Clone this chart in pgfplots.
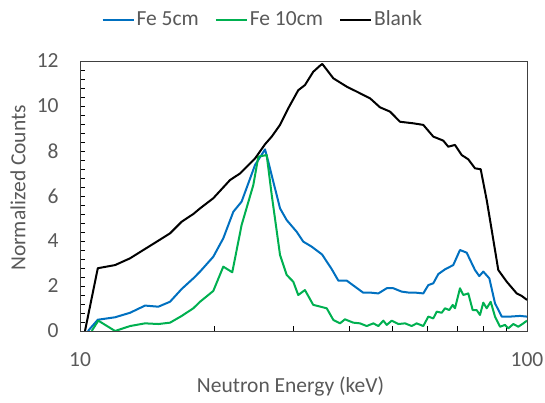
\documentclass[border=0pt]{standalone}
\usepackage{pgfplots}
\pgfplotsset{compat=1.18}
\usepackage{pgfplotstable}
\usepackage{fontspec}
\setmainfont{Carlito}
\definecolor{fefive}{HTML}{0070C0}
\definecolor{feten}{HTML}{00B050}
\definecolor{txt}{HTML}{595959}

\pgfplotstableread{
E c
10.42 0
10.96 0.50
11.98 0.61
12.94 0.81
13.98 1.13
14.97 1.08
15.90 1.30
16.89 1.87
17.93 2.34
18.56 2.64
19.87 3.30
20.92 4.12
22.03 5.30
22.99 5.75
24.64 7.38
25.94 8.07
26.38 7.52
28.02 5.45
29.00 4.93
30.53 4.41
31.59 3.97
32.98 3.75
34.80 3.40
36.57 2.75
37.84 2.24
39.51 2.24
41.23 1.97
43.03 1.70
44.94 1.70
46.50 1.67
48.55 1.90
50.23 1.90
52.44 1.75
54.73 1.70
56.65 1.70
58.61 1.67
60.15 2.04
61.71 2.12
63.33 2.53
65.55 2.74
68.40 2.93
70.81 3.60
73.30 3.48
76.50 2.71
78.22 2.44
79.84 2.64
82.36 2.34
84.81 1.23
87.79 0.64
91.62 0.64
96.45 0.67
100 0.64
}\fefive

\pgfplotstableread{
E c
10.62 0
10.99 0.46
11.98 0
12.94 0.22
13.98 0.34
14.97 0.31
15.90 0.37
16.89 0.67
17.93 1.01
18.56 1.30
19.87 1.78
20.92 2.86
21.91 2.61
22.99 4.71
24.42 6.49
25.06 7.75
26.16 7.82
26.85 6.04
28.02 3.38
29.00 2.49
30.00 2.19
30.78 1.60
31.86 1.82
33.25 1.16
35.64 1.01
36.88 0.49
38.17 0.34
39.15 0.52
40.87 0.37
42.31 0.34
43.80 0.22
45.31 0.34
46.50 0.22
47.70 0.46
48.55 0.27
49.82 0.46
51.55 0.31
53.36 0.34
55.21 0.22
56.65 0.34
58.61 0.22
60.15 0.64
61.71 0.56
62.81 0.86
64.45 0.81
65.55 1.01
67.01 0.93
68.20 1.16
69.00 1.01
70.81 1.90
72.03 1.60
73.91 1.67
75.59 0.93
77.17 0.93
78.50 0.71
79.84 1.26
81.25 1.01
82.94 1.30
84.81 0.64
87.02 0.19
89.29 0.27
90.82 0.12
93.20 0.31
95.61 0.19
98.11 0.34
100 0.46
}\feten

\pgfplotstableread{
E c
10.26 0
10.96 2.79
11.98 2.93
12.94 3.23
13.86 3.60
14.85 3.97
15.90 4.34
16.89 4.86
17.93 5.20
18.56 5.45
19.87 5.90
21.66 6.71
22.80 7.00
24.64 7.67
25.94 8.30
26.85 8.64
28.02 9.16
29.24 9.90
30.78 10.70
31.86 10.93
33.25 11.52
34.42 11.79
34.84 11.87
36.88 11.23
39.51 10.86
41.59 10.64
44.56 10.34
46.90 9.94
49.38 9.75
51.99 9.30
55.67 9.23
58.61 9.16
61.71 8.64
64.97 8.46
66.66 8.19
69.00 8.27
71.43 7.82
73.91 7.63
76.50 7.23
78.78 7.19
81.25 5.82
83.37 4.49
86.25 2.71
90.08 2.19
94.84 1.67
97.30 1.56
100 1.38
}\blank

\begin{document}
\begin{tikzpicture}
\fontsize{21.5}{25}\selectfont
\begin{axis}[
  name=ax,
  scale only axis,
  width=447pt, height=270pt,
  xmode=log,
  xmin=10, xmax=100,
  ymin=0, ymax=12,
  xtick={10,100},
  xticklabels={10,100},
  minor xtick={20,30,40,50,60,70,80,90},
  ytick={0,2,4,6,8,10,12},
  minor y tick num=4,
  tick pos=left,
  tick align=inside,
  major tick length=5pt,
  minor tick length=5pt,
  tick style={black, line width=0.8pt},
  axis line style={black!75, line width=0.8pt},
  /pgf/number format/assume math mode=true,
  tick label style={font=\fontsize{21.5}{25}\selectfont, text=txt},
  xticklabel style={yshift=-14pt},
  yticklabel style={xshift=-14pt},
  label style={font=\fontsize{21.5}{25}\selectfont, text=txt},
  xlabel={Neutron Energy (keV)},
  ylabel={Normalized Counts},
  xlabel style={at={(rel axis cs:0.471,-0.2037)}, anchor=center},
  ylabel style={at={(rel axis cs:-0.1387,0.53)}, anchor=center},
  legend columns=3,
  legend style={at={(rel axis cs:0.409,1.152)}, anchor=center, draw=none,
    font=\fontsize{21.5}{25}\selectfont, text=txt,
    /tikz/every even column/.append style={column sep=14pt},
    inner sep=0pt},
  legend image code/.code={\draw[#1] (0pt,0pt) -- (31pt,0pt);},
  every axis plot/.append style={line width=2pt, line join=round},
]
\addplot[fefive] table[x=E, y=c] {\fefive};
\addlegendentry{Fe 5cm}
\addplot[feten] table[x=E, y=c] {\feten};
\addlegendentry{Fe 10cm}
\addplot[black] table[x=E, y=c] {\blank};
\addlegendentry{Blank}
\end{axis}
\pgfresetboundingbox
\path ([shift={(-80pt,-72pt)}]ax.south west) rectangle ([shift={(18pt,61pt)}]ax.north east);
\end{tikzpicture}
\end{document}
